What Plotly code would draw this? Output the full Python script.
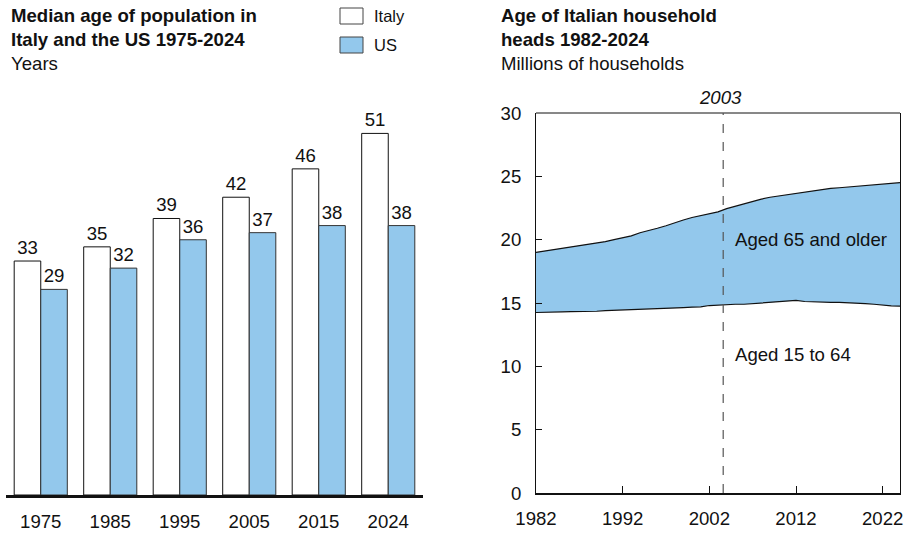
import plotly.graph_objects as go

# ---- Left chart data ----
years_cat = ["1975", "1985", "1995", "2005", "2015", "2024"]
italy_age = [33, 35, 39, 42, 46, 51]
us_age = [29, 32, 36, 37, 38, 38]

# ---- Right chart data ----
hh_years = list(range(1982, 2025))
aged_15_64 = [14.25, 14.25, 14.25, 14.30, 14.32, 14.32, 14.33, 14.35, 14.40, 14.42,
              14.45, 14.48, 14.50, 14.52, 14.55, 14.57, 14.60, 14.63, 14.67, 14.70,
              14.80, 14.85, 14.88, 14.90, 14.90, 14.95, 15.05, 15.10, 15.15, 15.20,
              15.20, 15.12, 15.08, 15.05, 15.05, 15.05, 15.03, 15.00, 14.95, 14.90,
              14.82, 14.78, 14.75]
total_hh = [19.00, 19.10, 19.20, 19.35, 19.45, 19.50, 19.65, 19.75, 19.85, 20.00,
            20.15, 20.30, 20.55, 20.70, 20.90, 21.10, 21.35, 21.55, 21.75, 21.90,
            22.05, 22.20, 22.45, 22.65, 22.85, 23.05, 23.20, 23.35, 23.45, 23.60,
            23.70, 23.80, 23.90, 24.00, 24.05, 24.10, 24.15, 24.20, 24.25, 24.35,
            24.38, 24.40, 24.50]
marker_year = 2003.6

W, H = 905, 536
BLUE = "#93C8EC"
FONT = "Liberation Sans, Arial, sans-serif"
FS = 18.6


def px(x):
    return x / W


def py(y):
    return 1 - y / H


fig = go.Figure()

fig.add_trace(go.Bar(x=years_cat, y=italy_age, name="Italy", xaxis="x", yaxis="y",
                     marker=dict(color="white", line=dict(color="#111", width=1)),
                     text=[str(v) for v in italy_age], textposition="outside",
                     textfont=dict(size=FS, color="#111"), cliponaxis=False))
fig.add_trace(go.Bar(x=years_cat, y=us_age, name="US", xaxis="x", yaxis="y",
                     marker=dict(color=BLUE, line=dict(color="#333", width=1)),
                     text=[str(v) for v in us_age], textposition="outside",
                     textfont=dict(size=FS, color="#111"), cliponaxis=False))

fig.add_trace(go.Scatter(x=hh_years, y=aged_15_64, xaxis="x2", yaxis="y2", mode="lines",
                         line=dict(color="#111", width=1.2), showlegend=False))
fig.add_trace(go.Scatter(x=hh_years, y=total_hh, xaxis="x2", yaxis="y2", mode="lines",
                         line=dict(color="#111", width=1.2), fill="tonexty",
                         fillcolor=BLUE, showlegend=False))

left_bottom, left_top = 495, 85
unit = 7.09
fig.update_layout(
    width=W, height=H, margin=dict(l=0, r=0, t=0, b=0, autoexpand=False),
    paper_bgcolor="white", plot_bgcolor="white",
    font=dict(family=FONT, size=FS, color="#111"),
    showlegend=False, barmode="group", bargap=0.236, bargroupgap=0,
    xaxis=dict(domain=[px(6), px(423)], showline=True, linecolor="#111", linewidth=3,
               ticks="", tickfont=dict(size=FS), showgrid=False, fixedrange=True,
               automargin=False, ticklabelstandoff=8),
    yaxis=dict(domain=[py(left_bottom), py(left_top)],
               range=[0, (left_bottom - left_top) / unit], visible=False, showgrid=False,
               automargin=False),
    xaxis2=dict(domain=[px(536), px(900)], anchor="y2", range=[1982, 2024],
                tickvals=[1982, 1992, 2002, 2012, 2022], ticks="inside", ticklen=7,
                tickcolor="#111", showline=True, linecolor="#111", linewidth=2,
                showgrid=False, zeroline=False, tickfont=dict(size=FS), ticklabelstandoff=8,
                automargin=False),
    yaxis2=dict(domain=[py(493), py(113)], anchor="x2", range=[0, 30],
                tickvals=[0, 5, 10, 15, 20, 25, 30], ticks="inside", ticklen=6,
                tickcolor="#111", showline=True, linecolor="#111", linewidth=1,
                mirror=True, showgrid=False, zeroline=False, tickfont=dict(size=FS),
                ticklabelstandoff=10, automargin=False),
)

# top frame line of right chart
fig.add_shape(type="line", xref="x2 domain", yref="y2 domain", x0=0, x1=1, y0=1, y1=1,
              line=dict(color="#111", width=1))
# dashed 2003 marker
fig.add_shape(type="line", xref="x2", yref="y2 domain", x0=marker_year, x1=marker_year,
              y0=0, y1=1, line=dict(color="#555", width=1.2, dash="dash"))

# custom legend
for label, fill, ytop in [("Italy", "white", 8), ("US", BLUE, 37)]:
    fig.add_shape(type="rect", xref="paper", yref="paper", x0=px(340), x1=px(363),
                  y0=py(ytop + 16), y1=py(ytop), fillcolor=fill,
                  line=dict(color="#444", width=1))
    fig.add_annotation(xref="paper", yref="paper", x=px(372), y=py(ytop + 8), text=label,
                       showarrow=False, xanchor="left", yanchor="middle",
                       font=dict(size=16.5))

# titles
fig.add_annotation(xref="paper", yref="paper", x=px(9), y=py(3), xanchor="left", yanchor="top",
                   align="left", showarrow=False,
                   text="<b>Median age of population in<br>Italy and the US 1975-2024</b><br>Years",
                   font=dict(size=FS))
fig.add_annotation(xref="paper", yref="paper", x=px(499), y=py(3), xanchor="left", yanchor="top",
                   align="left", showarrow=False,
                   text="<b>Age of Italian household<br>heads 1982-2024</b><br>Millions of households",
                   font=dict(size=FS))

# right-chart labels
fig.add_annotation(xref="x2", yref="paper", x=marker_year - 0.3, y=py(97), text="<i>2003</i>",
                   showarrow=False, xanchor="center", yanchor="middle", font=dict(size=FS))
fig.add_annotation(xref="paper", yref="paper", x=px(733), y=py(240), text="Aged 65 and older",
                   showarrow=False, xanchor="left", yanchor="middle", font=dict(size=FS))
fig.add_annotation(xref="paper", yref="paper", x=px(733), y=py(354), text="Aged 15 to 64",
                   showarrow=False, xanchor="left", yanchor="middle", font=dict(size=FS))

fig.write_html("out.html", config={"displayModeBar": False},
               post_script="document.body.style.margin='0';document.body.style.overflow='hidden';")
